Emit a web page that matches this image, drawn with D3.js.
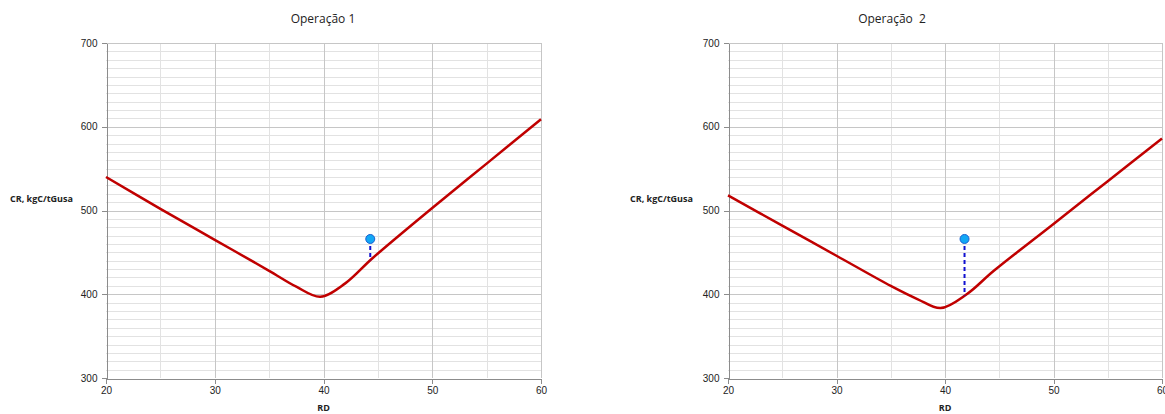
<!DOCTYPE html>
<meta charset="utf-8">
<style>
body { margin: 0; background: #fff; }
svg { font-family: "Open Sans", "Noto Sans", sans-serif; }
.tick text { font-size: 10px; fill: #222; }
.axis path, .axis line { stroke: #8c8c8c; shape-rendering: crispEdges; }
.grid-minor line { stroke: #e2e2e2; shape-rendering: crispEdges; }
.grid-major line { stroke: #c6c6c6; shape-rendering: crispEdges; }
.curve { fill: none; stroke: #c00000; stroke-width: 2.5px; }
.title { font-size: 12px; fill: #222; white-space: pre; }
.lbl { font-size: 9px; font-weight: bold; fill: #222; }
</style>
<body>
<div id="chart"></div>
<script src="https://cdn.jsdelivr.net/npm/d3@7"></script>
<script>
// dados
var titles = ["Operação 1", "Operação  2"];
var rd1 = [20, 25, 30, 35, 37.5, 39.7, 42, 44.5, 50, 55, 60];
var cr1 = [540, 502, 465, 428, 409, 397, 413, 443, 503, 556, 609];
var rd2 = [20, 25, 30, 35, 37.5, 39.6, 42, 44.5, 50, 55, 60];
var cr2 = [518, 482, 446, 410, 394, 383.5, 400, 428, 484, 535, 586];
var pointRD = [44.3, 41.8];
var pointCR = [466, 466];
var xTicks = [20, 30, 40, 50, 60];
var yTicks = [300, 400, 500, 600, 700];

var W = 1165, H = 414;
var svg = d3.select("#chart").append("svg").attr("width", W).attr("height", H);

var panels = [
  {x0: 106, x1: 541, titleX: 323, labelX: 10, rd: rd1, cr: cr1},
  {x0: 728, x1: 1162, titleX: 892, labelX: 630, rd: rd2, cr: cr2}
];
var yTop = 43, yBot = 378;

panels.forEach(function(p, i) {
  var x = d3.scaleLinear().domain([20, 60]).range([p.x0, p.x1]);
  var y = d3.scaleLinear().domain([300, 700]).range([yBot, yTop]);
  var g = svg.append("g");

  // grelha secundária
  var gn = g.append("g").attr("class", "grid-minor");
  gn.selectAll(".h").data(d3.range(310, 700, 10).filter(function(v) { return v % 100 != 0; }))
    .enter().append("line").attr("class", "h")
    .attr("x1", p.x0).attr("x2", p.x1)
    .attr("y1", function(d) { return Math.round(y(d)) + 0.5; })
    .attr("y2", function(d) { return Math.round(y(d)) + 0.5; });
  gn.selectAll(".v").data([25, 35, 45, 55]).enter().append("line").attr("class", "v")
    .attr("y1", yTop).attr("y2", yBot)
    .attr("x1", function(d) { return Math.round(x(d)) + 0.5; })
    .attr("x2", function(d) { return Math.round(x(d)) + 0.5; });

  // grelha principal
  var gm = g.append("g").attr("class", "grid-major");
  gm.selectAll(".h").data([400, 500, 600, 700]).enter().append("line").attr("class", "h")
    .attr("x1", p.x0).attr("x2", p.x1)
    .attr("y1", function(d) { return Math.round(y(d)) + 0.5; })
    .attr("y2", function(d) { return Math.round(y(d)) + 0.5; });
  gm.selectAll(".v").data([30, 40, 50, 60]).enter().append("line").attr("class", "v")
    .attr("y1", yTop).attr("y2", yBot)
    .attr("x1", function(d) { return Math.round(x(d)) + 0.5; })
    .attr("x2", function(d) { return Math.round(x(d)) + 0.5; });

  // eixos
  g.append("g").attr("class", "axis")
    .attr("transform", "translate(" + (Math.round(p.x0) + 0.5) + ",0)")
    .call(d3.axisLeft(y).tickValues(yTicks).tickSize(5).tickPadding(4).tickSizeOuter(0));
  g.append("g").attr("class", "axis")
    .attr("transform", "translate(0," + (yBot + 0.5) + ")")
    .call(d3.axisBottom(x).tickValues(xTicks).tickSize(5).tickPadding(3).tickSizeOuter(0));

  // curva
  var pts = p.rd.map(function(d, k) { return [d, p.cr[k]]; });
  var line = d3.line().x(function(d) { return x(d[0]); }).y(function(d) { return y(d[1]); })
    .curve(d3.curveCatmullRom.alpha(0.5));
  g.append("path").datum(pts).attr("class", "curve").attr("d", line);

  // ponto de operação e linha tracejada até à curva
  var crAt = d3.scaleLinear().domain(p.rd).range(p.cr);
  var pr = pointRD[i], pc = pointCR[i];
  g.append("line")
    .attr("x1", x(pr)).attr("x2", x(pr))
    .attr("y1", y(pc)).attr("y2", y(crAt(pr)))
    .attr("stroke", "#1010d0").attr("stroke-width", 2).attr("stroke-dasharray", "4,3");
  g.append("circle")
    .attr("cx", x(pr)).attr("cy", y(pc)).attr("r", 4.5)
    .attr("fill", "#12a8f5").attr("stroke", "#1a5fd0").attr("stroke-width", 1);

  // textos
  svg.append("text").attr("class", "title").attr("x", p.titleX).attr("y", 23)
    .attr("text-anchor", "middle").text(titles[i]);
  svg.append("text").attr("class", "lbl").attr("x", p.labelX).attr("y", 202).text("CR, kgC/tGusa");
  svg.append("text").attr("class", "lbl").attr("x", (p.x0 + p.x1) / 2).attr("y", 411)
    .attr("text-anchor", "middle").text("RD");
});
</script>
</body>
